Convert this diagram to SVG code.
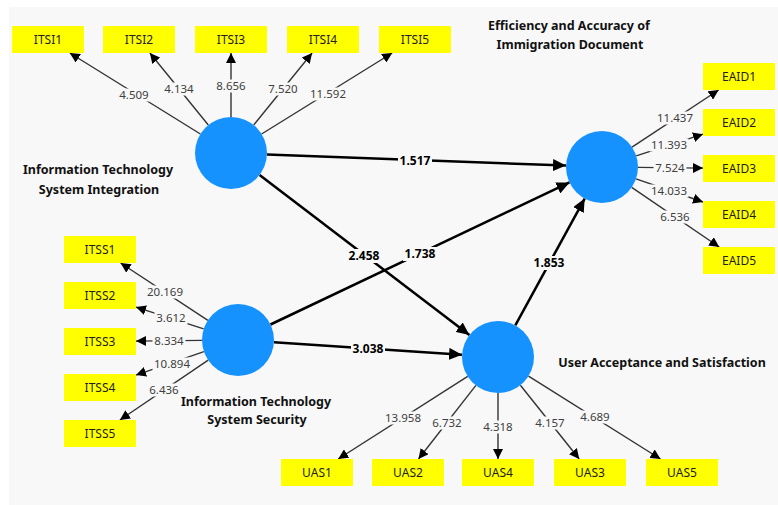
<svg xmlns="http://www.w3.org/2000/svg" width="778" height="505" viewBox="0 0 778 505">
<style>
.bg{fill:#f8f8f8}
.box{fill:#ffff00}
.bt{font-family:"Noto Sans","Open Sans","DejaVu Sans",sans-serif;font-size:12px;fill:#222;text-anchor:middle}
.lv{fill:#1592fe}
.lt{font-family:"Noto Sans","Open Sans","DejaVu Sans",sans-serif;font-size:12.5px;font-weight:bold;fill:#111;text-anchor:middle}
.m{stroke:#333;stroke-width:1.4;fill:none;marker-end:url(#am)}
.s{stroke:#000;stroke-width:2.5;fill:none;marker-end:url(#as)}
.lb{fill:#f8f8f8}
.mt{font-family:"Noto Sans","Open Sans","DejaVu Sans",sans-serif;font-size:11.5px;fill:#404040;text-anchor:middle}
.st{font-family:"Noto Sans","Open Sans","DejaVu Sans",sans-serif;font-size:12px;font-weight:bold;fill:#000;text-anchor:middle}
</style>
<defs>
<marker id="am" markerUnits="userSpaceOnUse" markerWidth="10" markerHeight="10" refX="10" refY="5" orient="auto"><path d="M0,0 L10,5 L0,10 z" fill="#000"/></marker>
<marker id="as" markerUnits="userSpaceOnUse" markerWidth="13" markerHeight="12" refX="13" refY="6" orient="auto"><path d="M0,0 L13,6 L0,12 z" fill="#000"/></marker>
</defs>
<rect class="bg" x="9" y="7" width="769" height="498"/>

<g id="connectors">
<!-- ITSI outer -->
<path class="m" d="M200.4,134 L69.8,53"/>
<path class="m" d="M208.3,125 L149.9,53"/>
<path class="m" d="M231,117 L231,53"/>
<path class="m" d="M253.7,125 L312.1,53"/>
<path class="m" d="M261.6,134 L392.2,53"/>
<!-- EAID outer -->
<path class="m" d="M632,147.2 L718.6,90"/>
<path class="m" d="M636.2,155.9 L703,134.2"/>
<path class="m" d="M638,167.4 L703,168.1"/>
<path class="m" d="M636,178.8 L703,202"/>
<path class="m" d="M631.7,187.3 L719.2,247"/>
<!-- ITSS outer -->
<path class="m" d="M207.9,320.3 L120.6,263"/>
<path class="m" d="M203.7,328.9 L136,307.1"/>
<path class="m" d="M202,340.4 L136,341.1"/>
<path class="m" d="M203.9,351.7 L136,375.1"/>
<path class="m" d="M208.2,360.2 L119.9,420"/>
<!-- UAS outer -->
<path class="m" d="M467.7,376.4 L338.2,459"/>
<path class="m" d="M475.9,385.4 L418.5,459"/>
<path class="m" d="M498,393 L498,459"/>
<path class="m" d="M520.4,385.2 L579.2,459"/>
<path class="m" d="M528.5,376.1 L660.5,459"/>
<!-- structural -->
<path class="s" d="M267,154.4 L566,165.6"/>
<path class="s" d="M259.6,174.9 L469.4,335.1"/>
<path class="s" d="M270.5,324.5 L569.5,182.4"/>
<path class="s" d="M273.9,342.3 L462.1,354.7"/>
<path class="s" d="M515.3,325.4 L584.7,198.6"/>

<g id="connector-labels">
<rect class="lb" x="117.5" y="88.5" width="33" height="13"/><text class="mt" x="134" y="99">4.509</text>
<rect class="lb" x="162.5" y="82.5" width="33" height="13"/><text class="mt" x="179" y="93">4.134</text>
<rect class="lb" x="214.5" y="79.5" width="33" height="13"/><text class="mt" x="231" y="90">8.656</text>
<rect class="lb" x="266.5" y="82.5" width="33" height="13"/><text class="mt" x="283" y="93">7.520</text>
<rect class="lb" x="308.5" y="87.5" width="39" height="13"/><text class="mt" x="328" y="98">11.592</text>

<rect class="lb" x="655.5" y="111.5" width="39" height="13"/><text class="mt" x="675" y="122">11.437</text>
<rect class="lb" x="649.5" y="138.5" width="39" height="13"/><text class="mt" x="669" y="149">11.393</text>
<rect class="lb" x="653.5" y="161.5" width="33" height="13"/><text class="mt" x="670" y="172">7.524</text>
<rect class="lb" x="649.5" y="184.5" width="39" height="13"/><text class="mt" x="669" y="195">14.033</text>
<rect class="lb" x="658.5" y="210.5" width="33" height="13"/><text class="mt" x="675" y="221">6.536</text>

<rect class="lb" x="145.5" y="285.5" width="39" height="13"/><text class="mt" x="165" y="296">20.169</text>
<rect class="lb" x="154.5" y="311.5" width="33" height="13"/><text class="mt" x="171" y="322">3.612</text>
<rect class="lb" x="152.5" y="334.5" width="33" height="13"/><text class="mt" x="169" y="345">8.334</text>
<rect class="lb" x="152.5" y="357.5" width="39" height="13"/><text class="mt" x="172" y="368">10.894</text>
<rect class="lb" x="147.5" y="383.5" width="33" height="13"/><text class="mt" x="164" y="394">6.436</text>

<rect class="lb" x="383.5" y="411.5" width="39" height="13"/><text class="mt" x="403" y="422">13.958</text>
<rect class="lb" x="430.5" y="416.5" width="33" height="13"/><text class="mt" x="447" y="427">6.732</text>
<rect class="lb" x="481.5" y="420.5" width="33" height="13"/><text class="mt" x="498" y="431">4.318</text>
<rect class="lb" x="533.5" y="416.5" width="33" height="13"/><text class="mt" x="550" y="427">4.157</text>
<rect class="lb" x="578.5" y="410.5" width="33" height="13"/><text class="mt" x="595" y="421">4.689</text>

<rect class="lb" x="398" y="154" width="34" height="14"/><text class="st" x="415" y="165.2">1.517</text>
<rect class="lb" x="347" y="249" width="34" height="14"/><text class="st" x="364" y="260.2">2.458</text>
<rect class="lb" x="403" y="247" width="34" height="14"/><text class="st" x="420" y="258.2">1.738</text>
<rect class="lb" x="351" y="342" width="34" height="14"/><text class="st" x="368" y="353.2">3.038</text>
<rect class="lb" x="532" y="256" width="34" height="14"/><text class="st" x="549" y="267.2">1.853</text>
</g>
</g>

<g id="ITSI"><circle class="lv" cx="231" cy="153" r="36"/><text class="lt" x="98" y="173.5">Information Technology</text><text class="lt" x="99" y="193.5">System Integration</text></g>
<g id="EAID"><circle class="lv" cx="602" cy="167" r="36"/><text class="lt" x="569" y="29.5">Efficiency and Accuracy of</text><text class="lt" x="570" y="48.5">Immigration Document</text></g>
<g id="ITSS"><circle class="lv" cx="238" cy="340" r="36"/><text class="lt" x="256" y="405.5">Information Technology</text><text class="lt" x="257" y="423.5">System Security</text></g>
<g id="UAS"><circle class="lv" cx="498" cy="357" r="36"/><text class="lt" x="662" y="366.5">User Acceptance and Satisfaction</text></g>

<g id="ITSI1"><rect class="box" x="12" y="26" width="72" height="27"/><text class="bt" x="48" y="43.5">ITSI1</text></g>
<g id="ITSI2"><rect class="box" x="103" y="26" width="72" height="27"/><text class="bt" x="139" y="43.5">ITSI2</text></g>
<g id="ITSI3"><rect class="box" x="195" y="26" width="72" height="27"/><text class="bt" x="231" y="43.5">ITSI3</text></g>
<g id="ITSI4"><rect class="box" x="287" y="26" width="72" height="27"/><text class="bt" x="323" y="43.5">ITSI4</text></g>
<g id="ITSI5"><rect class="box" x="379" y="26" width="72" height="27"/><text class="bt" x="415" y="43.5">ITSI5</text></g>

<g id="EAID1"><rect class="box" x="703" y="63" width="72" height="27"/><text class="bt" x="739" y="80.5">EAID1</text></g>
<g id="EAID2"><rect class="box" x="703" y="109" width="72" height="27"/><text class="bt" x="739" y="126.5">EAID2</text></g>
<g id="EAID3"><rect class="box" x="703" y="155" width="72" height="27"/><text class="bt" x="739" y="172.5">EAID3</text></g>
<g id="EAID4"><rect class="box" x="703" y="201" width="72" height="27"/><text class="bt" x="739" y="218.5">EAID4</text></g>
<g id="EAID5"><rect class="box" x="703" y="247" width="72" height="27"/><text class="bt" x="739" y="264.5">EAID5</text></g>

<g id="ITSS1"><rect class="box" x="64" y="236" width="72" height="27"/><text class="bt" x="100" y="253.5">ITSS1</text></g>
<g id="ITSS2"><rect class="box" x="64" y="282" width="72" height="27"/><text class="bt" x="100" y="299.5">ITSS2</text></g>
<g id="ITSS3"><rect class="box" x="64" y="328" width="72" height="27"/><text class="bt" x="100" y="345.5">ITSS3</text></g>
<g id="ITSS4"><rect class="box" x="64" y="374" width="72" height="27"/><text class="bt" x="100" y="391.5">ITSS4</text></g>
<g id="ITSS5"><rect class="box" x="64" y="420" width="72" height="27"/><text class="bt" x="100" y="437.5">ITSS5</text></g>

<g id="UAS1"><rect class="box" x="281" y="459" width="72" height="27"/><text class="bt" x="317" y="476.5">UAS1</text></g>
<g id="UAS2"><rect class="box" x="372" y="459" width="72" height="27"/><text class="bt" x="408" y="476.5">UAS2</text></g>
<g id="UAS4"><rect class="box" x="462" y="459" width="72" height="27"/><text class="bt" x="498" y="476.5">UAS4</text></g>
<g id="UAS3"><rect class="box" x="554" y="459" width="72" height="27"/><text class="bt" x="590" y="476.5">UAS3</text></g>
<g id="UAS5"><rect class="box" x="646" y="459" width="72" height="27"/><text class="bt" x="682" y="476.5">UAS5</text></g>
</svg>
